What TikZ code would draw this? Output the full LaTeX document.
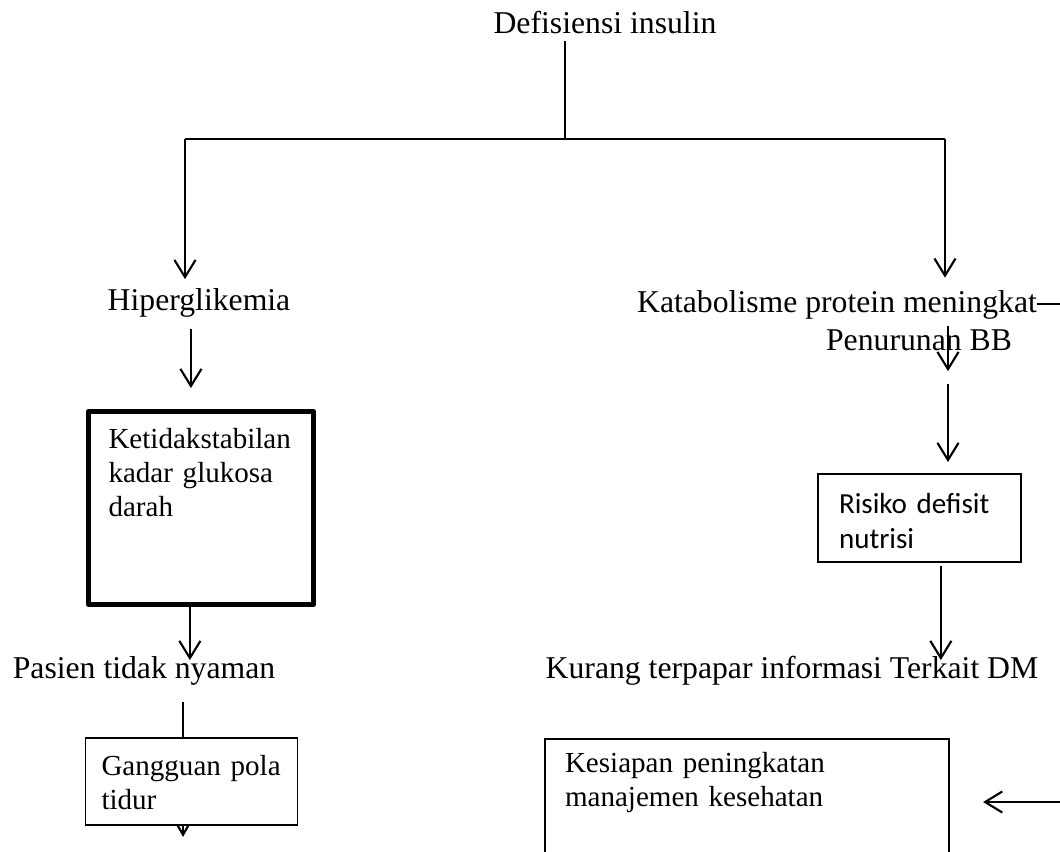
\documentclass[tikz,border=0pt]{standalone}
\usepackage{fontspec}
\setmainfont{Liberation Serif}
\newfontfamily\calibri{Carlito}
\usetikzlibrary{arrows.meta}
\tikzstyle{teks} = [inner sep=0pt, font=\fontsize{12}{14}\selectfont, text height=9pt, text depth=3pt, anchor=base]
\tikzstyle{kotak} = [rectangle, draw=black, line width=0.6pt, outer sep=0pt, align=left, text height=8.5pt, anchor=base west, font=\fontsize{11}{13}\selectfont]
\tikzstyle{kotaktebal} = [kotak, line width=1.9pt, line join=round]
\tikzstyle{garis} = [line width=0.8pt]
\tikzstyle{arrow} = [garis, -{Straight Barb[length=6.5pt,width=8pt]}]

\begin{document}
\begin{tikzpicture}[x=0.3785pt, y=-0.3785pt]
			\useasboundingbox (0,0) rectangle (1060,851);
			\clip (0,0) rectangle (1060,851);

			\node (def) [teks] at (605,33) {Defisiensi insulin};
			\node (hip) [teks] at (199,310) {Hiperglikemia};
			\node (kat) [teks] at (837,312) {Katabolisme protein meningkat};
			\node (pen) [teks] at (919,350) {Penurunan BB};
			\node (pas) [teks] at (144,678) {Pasien tidak nyaman};
			\node (kur) [teks] at (792,678) {Kurang terpapar informasi Terkait DM};

			\node (ket) [kotaktebal, inner xsep=7.57pt, inner ysep=5.3pt, text width=70pt, text depth=53.9pt] at (88.5,448) {Ketidakstabilan\\kadar glukosa\\darah};
			\node (gpt) [kotak, inner xsep=6.06pt, inner ysep=5.5pt, text width=68.1pt, text depth=13.4pt] at (85.5,775) {Gangguan pola\\tidur};
			\node (ris) [kotak, font=\calibri\fontsize{11}{13.4}\selectfont, inner xsep=7.95pt, inner ysep=6.3pt, text width=60.9pt, text depth=12.2pt] at (818,513) {Risiko defisit\\nutrisi};
			\node (kes) [kotak, inner xsep=7.57pt, inner ysep=4pt, text width=137.8pt, text depth=36.9pt] at (545,772) {Kesiapan peningkatan\\manajemen kesehatan};

			\coordinate (split) at (565,139);
			\coordinate (bl) at (185,139);
			\coordinate (br) at (945,139);
			\coordinate (kolomkanan) at (948,0);
			\coordinate (tepi) at (1060,301);
			\coordinate (tepi2) at (1060,802);

			\draw [garis] (def.south -| split) -- (split);
			\draw [garis] (bl) -- (br);
			\draw [arrow, shorten >=2.5pt] (bl) -- (hip.north -| bl);
			\draw [arrow, shorten >=3.8pt] (br) -- (kat.north -| br);
			\draw [garis] (kat.east) -- (kat.east -| tepi);
			\draw [arrow, shorten <=4pt, shorten >=8.9pt] ([xshift=-3.8pt]ket.north |- hip.south) -- ([xshift=-3.8pt]ket.north);
			\draw [arrow, shorten >=6.8pt] ([xshift=-4.2pt]ket.south) -- ([xshift=-4.2pt]ket.south |- pas.base);
			\draw [garis, shorten <=6pt] ([xshift=-3.2pt]gpt.north |- pas.south) -- ([xshift=-3.2pt]gpt.north);
			\draw [garis, -{Straight Barb[length=3.5pt,width=4pt]}] ([xshift=-3.2pt]gpt.south) -- ++(0,12);
			\draw [arrow, shorten <=2pt, shorten >=-8pt] (kat.south -| kolomkanan) -- (pen.base -| kolomkanan);
			\draw [arrow, shorten <=9.5pt, shorten >=4.5pt] (pen.south -| kolomkanan) -- (ris.north -| kolomkanan);
			\draw [arrow, shorten <=1.5pt, shorten >=6.8pt] ([xshift=8.1pt]ris.south) -- ([xshift=8.1pt]ris.south |- kur.base);
			\draw [arrow, shorten >=12.9pt] (tepi2) -- (kes.east |- tepi2);
		\end{tikzpicture}
\end{document}
